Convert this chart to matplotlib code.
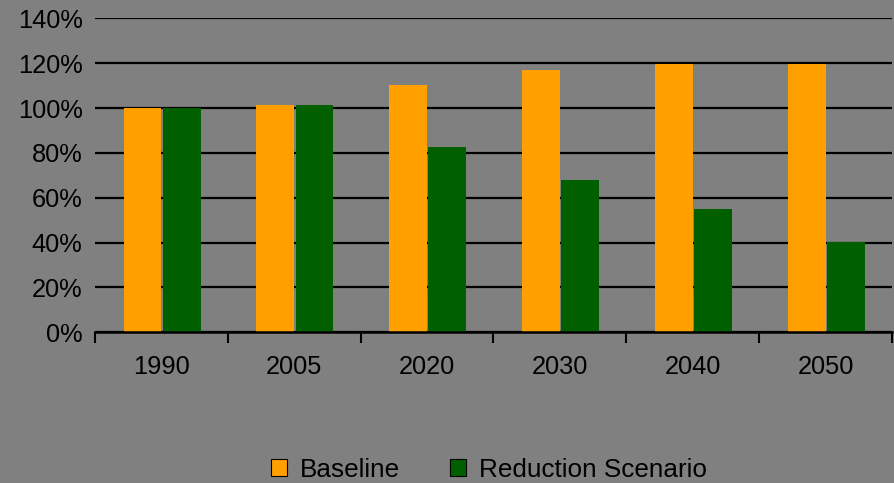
import matplotlib
matplotlib.use("Agg")
import matplotlib.pyplot as plt
import numpy as np
from matplotlib.patches import Patch
from matplotlib.ticker import FixedLocator, PercentFormatter

years = ["1990", "2005", "2020", "2030", "2040", "2050"]
baseline = [100, 101.3, 110.2, 116.9, 119.6, 119.8]
reduction = [100, 101.3, 82.7, 67.8, 54.9, 40.4]
y_ticks = [0, 20, 40, 60, 80, 100, 120, 140]

BG = "#808080"
ORANGE = "#FFA000"
GREEN = "#006000"

plt.rcParams['font.family'] = ['Liberation Sans', 'DejaVu Sans']

fig = plt.figure(figsize=(8.94, 4.83), dpi=100, facecolor=BG)
ax = fig.add_axes([95/894, (483-332.3)/483, (892-95)/894, (332.3-18.3)/483])
ax.set_facecolor(BG)

x = np.arange(len(years))
w = 0.285
ax.bar(x - w/2, baseline, width=w, color=ORANGE, zorder=3)
ax.bar(x + 0.01 + w/2, reduction, width=w, color=GREEN, zorder=3)

ax.set_xlim(-0.5, len(years) - 0.5)
ax.set_ylim(0, 140)
ax.set_yticks(y_ticks)
ax.yaxis.set_major_formatter(PercentFormatter(decimals=0))
ax.tick_params(axis='y', length=0, pad=9, labelsize=18.3, colors='black')
ax.set_xticks(x)
ax.set_xticklabels(years)
ax.tick_params(axis='x', which='major', length=0, pad=16, labelsize=18.3)
ax.xaxis.set_minor_locator(FixedLocator(np.arange(-0.5, len(years), 1.0)))
ax.tick_params(axis='x', which='minor', length=8, width=1.5, color='black', direction='out')

ax.grid(axis='y', color='black', linewidth=1.6, zorder=1)
for s in ['left', 'right', 'top']:
    ax.spines[s].set_visible(False)
ax.spines['bottom'].set_color('black')
ax.spines['bottom'].set_linewidth(1.8)
ax.spines['bottom'].set_zorder(4)

handles = [Patch(facecolor=ORANGE, edgecolor='black', linewidth=0.8, label='Baseline'),
           Patch(facecolor=GREEN, edgecolor='black', linewidth=0.8, label='Reduction Scenario')]
fig.legend(handles=handles, loc='center', bbox_to_anchor=(0.547, 0.027), ncol=2,
           frameon=False, fontsize=18.8, handlelength=0.6, handleheight=0.6,
           handletextpad=0.5, columnspacing=1.9, borderpad=0.2)

fig.savefig("out.png", dpi=100, facecolor=BG)
